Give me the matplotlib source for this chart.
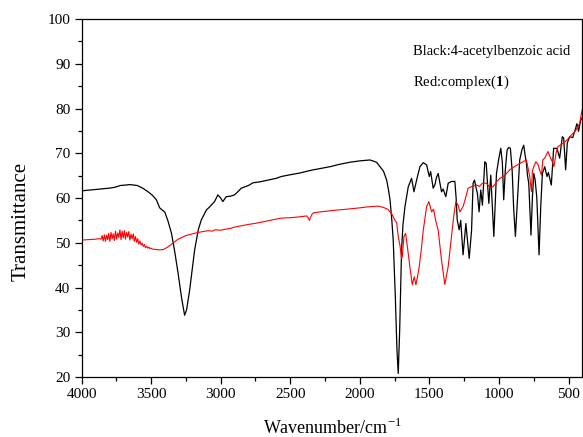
import numpy as np
import matplotlib.pyplot as plt

plt.rcParams['font.family'] = 'Liberation Serif'
plt.rcParams['mathtext.fontset'] = 'custom'
plt.rcParams['mathtext.rm'] = 'Liberation Serif'
plt.rcParams['mathtext.bf'] = 'Liberation Serif:bold'

# black trace: 4-acetylbenzoic acid (wavenumber / transmittance)
black_wn = [4000, 3900, 3800, 3760, 3720, 3680, 3653, 3600, 3560, 3522, 3490, 3462,
            3438, 3420, 3402, 3380, 3354, 3330, 3306, 3280, 3259, 3245, 3223, 3205,
            3187, 3160, 3139, 3103, 3070, 3044, 3020, 3000, 2984, 2960, 2930, 2900,
            2870, 2852, 2800, 2768, 2720, 2661, 2600, 2565, 2500, 2429, 2350, 2300,
            2214, 2150, 2070, 2000, 1927, 1880, 1855, 1830, 1807, 1795, 1783, 1770,
            1760, 1745, 1733, 1724, 1714, 1700, 1690, 1676, 1652, 1628, 1611, 1592,
            1568, 1544, 1520, 1501, 1491, 1473, 1460, 1450, 1437, 1413, 1401, 1382,
            1365, 1341, 1317, 1308, 1300, 1286, 1275, 1258, 1238, 1225, 1214, 1197,
            1186, 1176, 1166, 1155, 1143, 1131, 1119, 1102, 1092, 1073, 1059, 1037,
            1018, 1000, 987, 976, 966, 955, 942, 930, 918, 905, 895, 882,
            870, 851, 835, 822, 812, 803, 795, 786, 770, 760, 750, 740,
            728, 712, 700, 688, 671, 655, 645, 624, 607, 583, 564, 545,
            535, 521, 509, 492, 470, 449, 440, 428, 413, 400]
black_t = [61.6, 61.9, 62.2, 62.4, 62.8, 62.9, 63.0, 62.8, 62.2, 61.4, 60.6, 59.6,
           57.8, 57.3, 56.9, 55.0, 52.2, 48.0, 43.2, 37.5, 33.8, 35.0, 39.4, 44.0,
           48.4, 53.0, 55.1, 57.3, 58.3, 59.2, 60.7, 60.0, 59.2, 60.3, 60.4, 60.7,
           61.6, 62.2, 62.8, 63.4, 63.6, 64.0, 64.4, 64.8, 65.2, 65.6, 66.2, 66.5,
           67.0, 67.5, 68.0, 68.3, 68.5, 68.0, 67.0, 66.0, 64.0, 62.0, 59.6, 55.0,
           50.6, 38.0, 26.0, 20.8, 30.0, 48.4, 54.0, 58.0, 62.5, 64.4, 61.4, 64.0,
           67.0, 67.9, 67.4, 64.8, 65.9, 62.2, 63.0, 64.5, 65.5, 61.4, 62.0, 60.3,
           63.3, 63.7, 63.7, 60.0, 55.1, 52.9, 55.0, 47.3, 54.3, 50.0, 46.5, 52.8,
           63.3, 64.0, 62.5, 61.0, 56.9, 61.8, 58.4, 68.1, 67.8, 58.8, 65.1, 51.4,
           65.5, 69.0, 71.1, 68.0, 59.6, 66.0, 70.7, 71.3, 71.1, 66.0, 58.0, 51.4,
           58.0, 68.5, 70.8, 71.8, 69.5, 67.8, 65.0, 63.3, 51.7, 60.0, 65.5, 64.0,
           60.0, 47.3, 58.0, 65.5, 67.0, 64.8, 65.7, 62.9, 71.1, 71.1, 68.9, 73.7,
           73.4, 66.3, 72.3, 73.7, 73.5, 75.6, 76.6, 74.9, 77.4, 78.0]

# red trace: complex (1)
red_wn = [4000, 3950, 3900, 3870,
          3860, 3852, 3844, 3836, 3828, 3820, 3812, 3804, 3796, 3788, 3780, 3772,
          3764, 3756, 3748, 3740, 3732, 3724, 3716, 3708, 3700, 3692, 3684, 3676,
          3668, 3660, 3652, 3644, 3636, 3628, 3620, 3612, 3604, 3596, 3588, 3580,
          3572, 3564, 3556, 3548, 3540, 3532, 3524, 3516, 3508, 3500, 3492,
          3470, 3438, 3410, 3378, 3340, 3306, 3250, 3200, 3163, 3091, 3060, 3040,
          3000, 2972, 2931, 2900, 2850, 2800, 2757, 2692, 2600, 2565, 2500, 2430,
          2381, 2370, 2362, 2355, 2345, 2333, 2250, 2200, 2094, 2000, 1950, 1903,
          1870, 1831, 1800, 1783, 1771, 1747, 1735, 1724, 1712, 1700, 1695, 1683,
          1671, 1660, 1652, 1640, 1623, 1609, 1597, 1585, 1573, 1560, 1544, 1520,
          1504, 1484, 1470, 1455, 1437, 1413, 1389, 1365, 1341, 1325, 1310, 1295,
          1281, 1258, 1240, 1222, 1200, 1162, 1140, 1120, 1090, 1066, 1042, 1020,
          994, 960, 923, 890, 851, 803, 790, 779, 767, 760, 750, 735,
          720, 705, 695, 685, 670, 648, 630, 615, 605, 590, 576, 540,
          510, 480, 450, 420, 410, 400]
red_t = [50.6, 50.7, 50.8, 50.9,
         50.8, 51.6, 50.4, 51.8, 50.3, 51.7, 50.7, 52.1, 50.3, 52.3, 50.9, 52.0,
         50.5, 52.6, 50.8, 52.2, 51.2, 52.9, 50.7, 52.6, 51.1, 52.7, 50.8, 52.3,
         51.3, 52.5, 50.6, 51.9, 50.9, 52.0, 50.3, 51.4, 50.1, 50.9, 49.7, 50.4,
         49.5, 49.9, 49.2, 49.6, 48.9, 49.2, 48.8, 49.0, 48.7, 48.8, 48.6,
         48.5, 48.4, 48.5, 49.1, 50.0, 50.8, 51.6, 52.0, 52.3, 52.7, 52.6, 52.9,
         52.8, 53.0, 53.2, 53.5, 53.8, 54.1, 54.3, 54.7, 55.3, 55.5, 55.6, 55.8,
         56.0, 55.5, 55.0, 55.6, 56.3, 56.7, 57.0, 57.2, 57.5, 57.8, 58.0, 58.1,
         58.2, 57.9, 57.5, 56.9, 56.5, 55.0, 54.5, 51.4, 49.5, 46.5, 46.8, 51.4,
         52.1, 49.5, 47.6, 44.5, 40.6, 42.4, 40.6, 42.5, 44.7, 48.0, 52.8, 58.1,
         59.2, 56.9, 57.5, 55.0, 52.8, 46.1, 40.7, 44.7, 51.4, 56.0, 59.2, 58.5,
         56.9, 58.1, 60.0, 62.2, 62.5, 62.9, 62.6, 63.3, 63.3, 62.4, 62.5, 63.5,
         64.4, 65.0, 66.3, 67.0, 67.7, 68.5, 66.5, 64.8, 61.4, 66.0, 67.0, 68.1,
         67.5, 66.0, 65.1, 68.5, 69.0, 70.4, 69.0, 68.0, 67.0, 70.0, 71.5, 72.2,
         73.0, 74.1, 75.0, 76.7, 78.5, 80.0]

fig = plt.figure(figsize=(5.83, 4.37), dpi=100)
ax = fig.add_axes([0.1398, 0.1373, 0.8593, 0.8192])

ax.plot(black_wn, black_t, color='black', lw=0.9)
ax.plot(red_wn, red_t, color='red', lw=0.8)

ax.set_xlim(4000, 400)
ax.set_ylim(20, 100)
ax.set_xticks([4000, 3500, 3000, 2500, 2000, 1500, 1000, 500])
ax.set_xticks(np.arange(3750, 400, -500), minor=True)
ax.set_yticks(np.arange(20, 101, 10))
ax.set_yticks(np.arange(25, 100, 10), minor=True)
ax.tick_params(which='major', direction='out', length=5, width=0.9, labelsize=11, pad=3)
ax.tick_params(which='minor', direction='out', length=3, width=0.9)
for s in ax.spines.values():
    s.set_linewidth(0.9)

fig.text(332 / 583, 1 - 434 / 437, 'Wavenumber/cm$^{-1}$', fontsize=13,
         ha='center', va='baseline')
fig.text(25.3 / 583, 1 - 221 / 437, 'Transmittance', fontsize=15, rotation=90,
         rotation_mode='anchor', ha='center', va='baseline')

ax.text(1617, 92.0, 'Black:4-acetylbenzoic acid', fontsize=10.5, va='baseline')
ax.text(1617, 85.0, r'Red:complex($\mathbf{1}$)', fontsize=10.5, va='baseline')

fig.savefig('out.png', dpi=100)
